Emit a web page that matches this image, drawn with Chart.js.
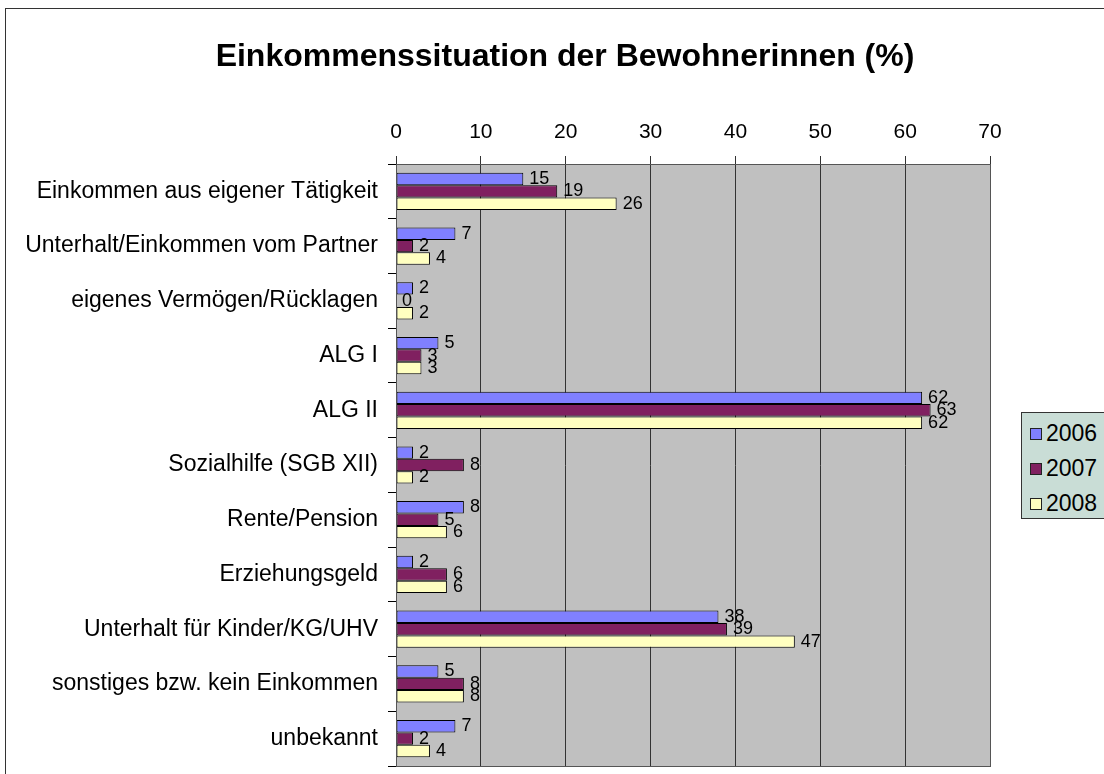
<!DOCTYPE html>
<html>
<head>
<meta charset="utf-8">
<script src="https://cdn.jsdelivr.net/npm/chart.js@4"></script>
<style>
    body { margin: 0; background: #fff; font-family: "Liberation Sans", Arial, sans-serif; }
    #wrap { position: relative; width: 1104px; height: 774px; overflow: hidden; }
    #frame { position: absolute; left: 5px; top: 8px; width: 1110px; height: 780px; border: 1px solid #333; box-sizing: border-box; }
    #title { position: absolute; left: 0; width: 1130px; top: 37px; text-align: center; font-weight: bold; font-size: 32px; color: #000; }
    canvas { position: absolute; left: 0; top: 0; }
    #legend { position: absolute; left: 1021px; top: 412px; width: 100px; height: 107px; background: #c9ddd6; border: 1px solid #333; box-sizing: border-box; }
    .item { position: absolute; left: 8px; font-size: 23px; line-height: 24px; white-space: nowrap; }
    .item span { display: inline-block; width: 10px; height: 10px; border: 1px solid #222; margin-right: 4px; vertical-align: 1px; }
</style>
</head>
<body>
<div id="wrap">
    <div id="frame"></div>
    <canvas id="chart" width="1104" height="774"></canvas>
    <div id="title">Einkommenssituation der Bewohnerinnen (%)</div>
    <div id="legend"></div>
</div>
<script>
// Categories and values
const categories = [
    "Einkommen aus eigener Tätigkeit",
    "Unterhalt/Einkommen vom Partner",
    "eigenes Vermögen/Rücklagen",
    "ALG I",
    "ALG II",
    "Sozialhilfe (SGB XII)",
    "Rente/Pension",
    "Erziehungsgeld",
    "Unterhalt für Kinder/KG/UHV",
    "sonstiges bzw. kein Einkommen",
    "unbekannt"
];
const values2006 = [15, 7, 2, 5, 62, 2, 8, 2, 38, 5, 7];
const values2007 = [19, 2, 0, 3, 63, 8, 5, 6, 39, 8, 2];
const values2008 = [26, 4, 2, 3, 62, 2, 6, 6, 47, 8, 4];
const seriesNames = ["2006", "2007", "2008"];
const seriesColors = ["#8080ff", "#802060", "#ffffc0"];
const xTicks = [0, 10, 20, 30, 40, 50, 60, 70];

// Grey plot background + border
const plotBackground = {
    id: "plotBackground",
    beforeDraw(chart) {
        const a = chart.chartArea, c = chart.ctx;
        c.save();
        c.fillStyle = "#c0c0c0";
        c.fillRect(a.left, a.top, a.right - a.left, a.bottom - a.top);
        c.restore();
    },
    afterDraw(chart) {
        const a = chart.chartArea, c = chart.ctx;
        c.save();
        c.strokeStyle = "#555";
        c.lineWidth = 1;
        c.strokeRect(a.left + 0.5, a.top + 0.5, a.right - a.left, a.bottom - a.top);
        c.restore();
    }
};

// Value labels at the bar ends
const barLabels = {
    id: "barLabels",
    afterDatasetsDraw(chart) {
        const c = chart.ctx;
        c.save();
        c.font = "18px 'Liberation Sans', Arial, sans-serif";
        c.fillStyle = "#000";
        c.textBaseline = "middle";
        chart.data.datasets.forEach((ds, i) => {
            chart.getDatasetMeta(i).data.forEach((bar, j) => {
                c.fillText(String(ds.data[j]), bar.x + 6, bar.y);
            });
        });
        c.restore();
    }
};

const ctx = document.getElementById("chart").getContext("2d");
new Chart(ctx, {
    type: "bar",
    data: {
        labels: categories,
        datasets: [values2006, values2007, values2008].map((d, i) => ({
            label: seriesNames[i],
            data: d,
            backgroundColor: seriesColors[i],
            borderColor: "#000",
            borderWidth: 1,
            borderSkipped: false,
            categoryPercentage: 0.68,
            barPercentage: 1
        }))
    },
    options: {
        indexAxis: "y",
        responsive: false,
        animation: false,
        devicePixelRatio: 1,
        layout: { autoPadding: false, padding: { left: 0, right: 114, top: 0, bottom: 8 } },
        plugins: {
            legend: { display: false },
            tooltip: { enabled: false }
        },
        scales: {
            x: {
                position: "top",
                min: 0,
                max: 70,
                afterFit: s => { s.height = 164; s.paddingLeft = 0; s.paddingRight = 0; },
                afterBuildTicks: s => { s.ticks = xTicks.map(v => ({ value: v })); },
                ticks: {
                    color: "#000",
                    padding: 11,
                    font: { family: "'Liberation Sans', Arial, sans-serif", size: 21 }
                },
                grid: { color: "#333", lineWidth: 1, tickLength: 8 },
                border: { color: "#000" }
            },
            y: {
                afterFit: s => { s.width = 396; s.paddingTop = 0; s.paddingBottom = 0; },
                ticks: {
                    color: "#000",
                    padding: 10,
                    font: { family: "'Liberation Sans', Arial, sans-serif", size: 23 }
                },
                grid: { drawOnChartArea: false, color: "#000", tickLength: 8 },
                border: { color: "#000" }
            }
        }
    },
    plugins: [plotBackground, barLabels]
});

// HTML legend
const legend = document.getElementById("legend");
seriesNames.forEach((name, i) => {
    const el = document.createElement("div");
    el.className = "item";
    el.style.top = (8 + i * 35) + "px";
    el.innerHTML = '<span style="background:' + seriesColors[i] + '"></span>' + name;
    legend.appendChild(el);
});
</script>
</body>
</html>
